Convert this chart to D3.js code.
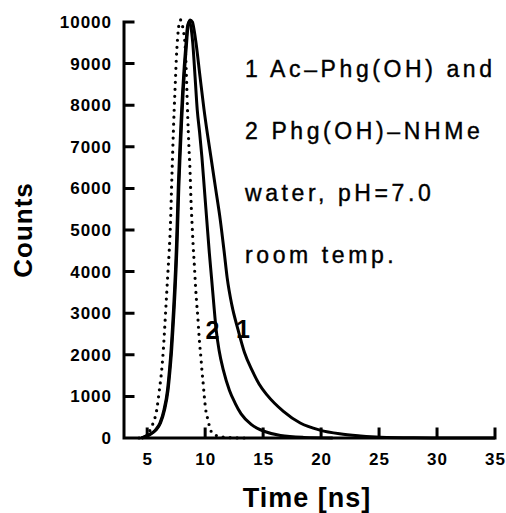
<!DOCTYPE html>
<html>
<head>
<meta charset="utf-8">
<script src="https://cdn.jsdelivr.net/npm/d3@7"></script>
<style>
  body { margin: 0; background: #fff; }
  svg { display: block; }
</style>
</head>
<body>
<svg id="chart" width="506" height="513"></svg>
<script>
// values
const timeTicks = [5, 10, 15, 20, 25, 30, 35];
const countTicks = [0, 1000, 2000, 3000, 4000, 5000, 6000, 7000, 8000, 9000, 10000];

// dotted curve (lamp / instrument response)
const irfTime   = [4.3, 4.7, 5.1, 5.5, 5.82, 6.05, 6.25, 6.39, 6.5, 6.6, 6.7, 6.8, 6.9, 7.02, 7.1, 7.18, 7.25, 7.33, 7.42, 7.52, 7.62, 7.75, 7.88, 8.0, 8.15, 8.3, 8.42, 8.5, 8.6, 8.7, 8.78, 8.88, 8.97, 9.08, 9.17, 9.27, 9.37, 9.45, 9.53, 9.63, 9.72, 9.83, 9.93, 10.05, 10.25, 10.45, 10.8, 11.5, 12.5, 13.5];
const irfCounts = [0, 20, 120, 350, 670, 1150, 1630, 2110, 2600, 3080, 3560, 4040, 4500, 5240, 6000, 6700, 7300, 7900, 8500, 9150, 9600, 9950, 10050, 9950, 9750, 9300, 8400, 7700, 7000, 6400, 5700, 5100, 4600, 4100, 3650, 3240, 2900, 2550, 2250, 1950, 1630, 1310, 990, 680, 430, 200, 80, 25, 5, 0];

// curve 1: Ac-Phg(OH)
const c1Time   = [4.55, 5.15, 5.75, 6.15, 6.5, 6.8, 6.97, 7.11, 7.22, 7.32, 7.41, 7.49, 7.57, 7.65, 7.73, 7.85, 7.97, 8.1, 8.25, 8.4, 8.52, 8.7, 8.9, 9.05, 9.21, 9.56, 9.9, 10.2, 10.5, 10.9, 11.3, 11.63, 11.9, 12.3, 12.84, 13.4, 14.04, 14.65, 15.35, 16.75, 18.2, 19.9, 21.6, 23.4, 25.1, 28, 32, 35];
const c1Counts = [0, 70, 190, 360, 680, 1150, 1630, 2110, 2600, 3080, 3560, 4040, 4600, 5300, 6030, 6850, 7600, 8300, 8950, 9500, 9900, 10050, 10000, 9800, 9500, 8680, 7900, 7300, 6750, 6000, 5250, 4500, 3850, 3200, 2600, 2050, 1630, 1300, 1030, 640, 360, 190, 100, 50, 20, 5, 0, 0];

// curve 2: Phg(OH)-NHMe
const c2Time   = [4.5, 5.1, 5.7, 6.1, 6.45, 6.75, 6.92, 7.06, 7.17, 7.27, 7.36, 7.44, 7.52, 7.6, 7.68, 7.8, 7.92, 8.05, 8.2, 8.35, 8.48, 8.62, 8.76, 8.93, 9.13, 9.32, 9.52, 9.72, 9.92, 10.14, 10.36, 10.55, 10.75, 10.95, 11.2, 11.57, 12.09, 12.58, 13.1, 14.0, 15.2, 16.5, 18.5, 21];
const c2Counts = [0, 70, 190, 360, 680, 1150, 1630, 2110, 2600, 3080, 3560, 4040, 4600, 5300, 6030, 6850, 7600, 8300, 8950, 9500, 9900, 10000, 9900, 9500, 8680, 7880, 7350, 6750, 6030, 5240, 4450, 3850, 3200, 2600, 2110, 1630, 1150, 840, 580, 320, 150, 60, 15, 0];

const curveLabels = [
  { text: "2", t: 10.64, c: 2600 },
  { text: "1", t: 13.27, c: 2620 }
];

const legendLines = ["1 Ac–Phg(OH) and", "2 Phg(OH)–NHMe", "water, pH=7.0", "room temp."];

var svg = d3.select("#chart"),
    margin = {top: 22, right: 11, bottom: 75, left: 124},
    width = +svg.attr("width") - margin.left - margin.right,
    height = +svg.attr("height") - margin.top - margin.bottom,
    g = svg.append("g").attr("transform", "translate(" + margin.left + "," + margin.top + ")");

var x = d3.scaleLinear().domain([3, 35]).range([0, width]);
var y = d3.scaleLinear().domain([0, 10000]).range([height, 0]);

var line = d3.line()
    .x((d) => x(d[0]))
    .y((d) => y(d[1]))
    .curve(d3.curveMonotoneX);

// tick labels from d3 axes; axis lines + inward ticks drawn as one path
var xAxis = g.append("g")
    .attr("transform", "translate(0," + height + ")")
    .call(d3.axisBottom(x).tickValues(timeTicks).tickFormat(d3.format("d"))
      .tickSize(0).tickPadding(15));
var yAxis = g.append("g")
    .call(d3.axisLeft(y).tickValues(countTicks).tickFormat(d3.format("d"))
      .tickSize(0).tickPadding(12));

[xAxis, yAxis].forEach((a) => {
  a.select(".domain").remove();
  a.selectAll(".tick text")
      .attr("fill", "#000")
      .style("font-family", "'Liberation Sans', Arial, sans-serif")
      .style("font-weight", "bold")
      .style("font-size", "17px")
      .style("letter-spacing", "1px");
});

var frame = d3.path();
frame.moveTo(x(3), y(10000));
frame.lineTo(x(3), y(0));
frame.lineTo(x(35), y(0));
countTicks.forEach((d) => { frame.moveTo(x(3), y(d)); frame.lineTo(x(3) + 9, y(d)); });
timeTicks.forEach((d) => { frame.moveTo(x(d), y(0)); frame.lineTo(x(d), y(0) - 9); });

g.append("path")
    .attr("d", frame.toString())
    .attr("fill", "none")
    .attr("stroke", "#000")
    .attr("stroke-width", 3)
    .attr("stroke-linecap", "square");

// curves
g.append("path")
    .datum(d3.zip(c1Time, c1Counts))
    .attr("fill", "none")
    .attr("stroke", "#000")
    .attr("stroke-width", 3)
    .attr("stroke-linejoin", "round")
    .attr("d", line);
g.append("path")
    .datum(d3.zip(c2Time, c2Counts))
    .attr("fill", "none")
    .attr("stroke", "#000")
    .attr("stroke-width", 3)
    .attr("stroke-linejoin", "round")
    .attr("d", line);
g.append("path")
    .datum(d3.zip(irfTime, irfCounts))
    .attr("fill", "none")
    .attr("stroke", "#000")
    .attr("stroke-width", 3.2)
    .attr("stroke-linecap", "round")
    .attr("stroke-dasharray", "0 7")
    .attr("d", line);

g.selectAll(".clabel")
  .data(curveLabels)
  .enter().append("text")
    .attr("x", (d) => x(d.t))
    .attr("y", (d) => y(d.c))
    .attr("dy", "0.36em")
    .attr("text-anchor", "middle")
    .style("font-family", "'Liberation Sans', Arial, sans-serif")
    .style("font-weight", "bold")
    .style("font-size", "25px")
    .text((d) => d.text);

// annotation block
svg.append("g")
    .selectAll("text")
    .data(legendLines)
  .enter().append("text")
    .attr("x", 245)
    .attr("y", (d, i) => 77 + i * 62)
    .attr("stroke", "#000")
    .attr("stroke-width", 0.4)
    .style("font-family", "'Liberation Sans', Arial, sans-serif")
    .style("font-size", "23px")
    .style("letter-spacing", "3.6px")
    .text((d) => d);

// axis titles
svg.append("text")
    .attr("x", 307)
    .attr("y", 507)
    .attr("text-anchor", "middle")
    .style("font-family", "'Liberation Sans', Arial, sans-serif")
    .style("font-weight", "bold")
    .style("font-size", "27px")
    .style("letter-spacing", "1px")
    .text("Time [ns]");
svg.append("text")
    .attr("transform", "translate(32,230) rotate(-90)")
    .attr("text-anchor", "middle")
    .style("font-family", "'Liberation Sans', Arial, sans-serif")
    .style("font-weight", "bold")
    .style("font-size", "26px")
    .style("letter-spacing", "1px")
    .text("Counts");
</script>
</body>
</html>
